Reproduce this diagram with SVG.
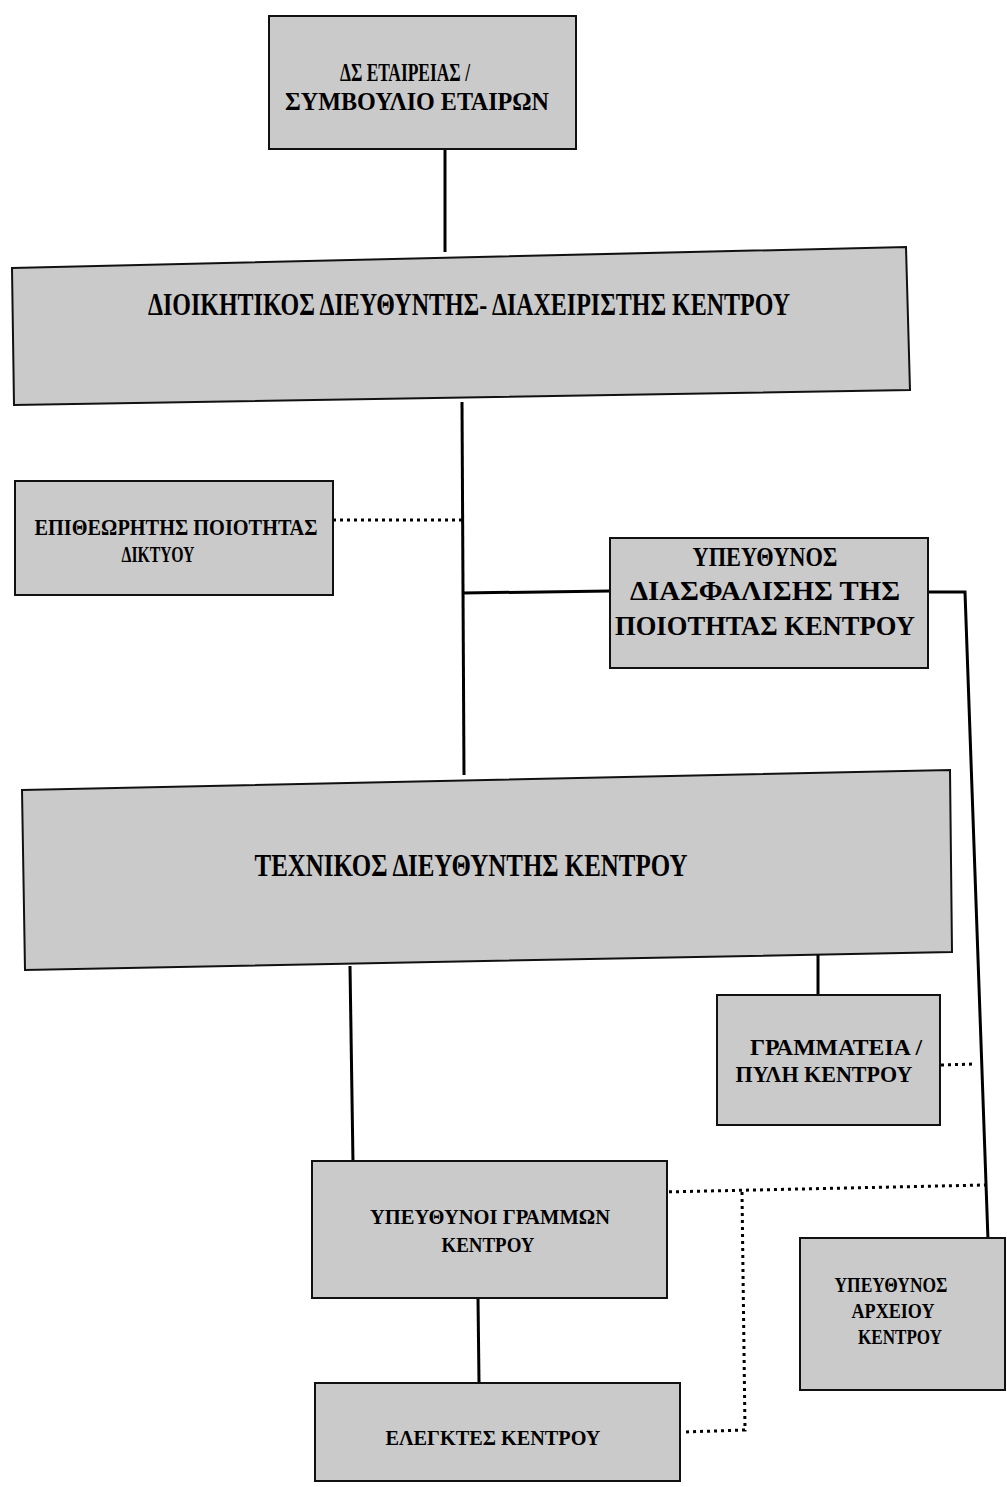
<svg xmlns="http://www.w3.org/2000/svg" width="1007" height="1487" viewBox="0 0 1007 1487">
<style>
.box{fill:#cacaca;stroke:#111;stroke-width:2}
.t{font-family:"Liberation Serif","DejaVu Serif",serif;font-weight:bold;fill:#000;text-anchor:middle}
.s{fill:none;stroke:#000;stroke-width:3}
.d{fill:none;stroke:#000;stroke-width:3;stroke-dasharray:3 4}
</style>
<rect width="1007" height="1487" fill="#fff"/>
<g id="connectors">
<line class="s" x1="445" y1="150" x2="445" y2="252"/>
<line class="s" x1="462" y1="402" x2="464" y2="775"/>
<line class="d" x1="333" y1="520" x2="462" y2="520"/>
<line class="s" x1="463" y1="593" x2="610" y2="591"/>
<polyline class="s" points="915,592 965,592 988,1240"/>
<line class="s" x1="350" y1="966" x2="353" y2="1163"/>
<line class="s" x1="818" y1="953" x2="818" y2="996"/>
<line class="d" x1="941" y1="1065" x2="975" y2="1064"/>
<line class="d" x1="662" y1="1192" x2="985" y2="1185"/>
<polyline class="d" points="742,1192 745,1430 683,1432"/>
<line class="s" x1="478" y1="1298" x2="479" y2="1382"/>
</g>
<g id="n1">
<rect class="box" x="269" y="16" width="307" height="133"/>
<text class="t" x="405" y="81" font-size="26" textLength="130" lengthAdjust="spacingAndGlyphs">ΔΣ ΕΤΑΙΡΕΙΑΣ /</text>
<text class="t" x="417" y="110" font-size="26" textLength="264" lengthAdjust="spacingAndGlyphs">ΣΥΜΒΟΥΛΙΟ ΕΤΑΙΡΩΝ</text>
</g>
<g id="n2">
<polygon class="box" points="12,268 906,247 910,390 14,405"/>
<text class="t" x="469" y="315" font-size="31" textLength="642" lengthAdjust="spacingAndGlyphs">ΔΙΟΙΚΗΤΙΚΟΣ ΔΙΕΥΘΥΝΤΗΣ- ΔΙΑΧΕΙΡΙΣΤΗΣ ΚΕΝΤΡΟΥ</text>
</g>
<g id="n3">
<rect class="box" x="15" y="481" width="318" height="114"/>
<text class="t" x="176" y="535" font-size="23" textLength="283" lengthAdjust="spacingAndGlyphs">ΕΠΙΘΕΩΡΗΤΗΣ ΠΟΙΟΤΗΤΑΣ</text>
<text class="t" x="158" y="562" font-size="23" textLength="73" lengthAdjust="spacingAndGlyphs">ΔΙΚΤΥΟΥ</text>
</g>
<g id="n4">
<rect class="box" x="610" y="538" width="318" height="130"/>
<text class="t" x="765" y="566" font-size="28" textLength="145" lengthAdjust="spacingAndGlyphs">ΥΠΕΥΘΥΝΟΣ</text>
<text class="t" x="765" y="600" font-size="28" textLength="270" lengthAdjust="spacingAndGlyphs">ΔΙΑΣΦΑΛΙΣΗΣ ΤΗΣ</text>
<text class="t" x="765" y="635" font-size="28" textLength="300" lengthAdjust="spacingAndGlyphs">ΠΟΙΟΤΗΤΑΣ ΚΕΝΤΡΟΥ</text>
</g>
<g id="n5">
<polygon class="box" points="22,790 950,770 952,952 25,970"/>
<text class="t" x="471" y="876" font-size="31" textLength="433" lengthAdjust="spacingAndGlyphs">ΤΕΧΝΙΚΟΣ ΔΙΕΥΘΥΝΤΗΣ ΚΕΝΤΡΟΥ</text>
</g>
<g id="n6">
<rect class="box" x="717" y="995" width="223" height="130"/>
<text class="t" x="836" y="1055" font-size="23" textLength="172" lengthAdjust="spacingAndGlyphs">ΓΡΑΜΜΑΤΕΙΑ /</text>
<text class="t" x="824" y="1082" font-size="23" textLength="177" lengthAdjust="spacingAndGlyphs">ΠΥΛΗ ΚΕΝΤΡΟΥ</text>
</g>
<g id="n7">
<rect class="box" x="312" y="1161" width="355" height="137"/>
<text class="t" x="490" y="1224" font-size="22" textLength="240" lengthAdjust="spacingAndGlyphs">ΥΠΕΥΘΥΝΟΙ ΓΡΑΜΜΩΝ</text>
<text class="t" x="488" y="1252" font-size="22" textLength="93" lengthAdjust="spacingAndGlyphs">ΚΕΝΤΡΟΥ</text>
</g>
<g id="n8">
<rect class="box" x="315" y="1383" width="365" height="98"/>
<text class="t" x="493" y="1445" font-size="22" textLength="215" lengthAdjust="spacingAndGlyphs">ΕΛΕΓΚΤΕΣ ΚΕΝΤΡΟΥ</text>
</g>
<g id="n9">
<rect class="box" x="800" y="1238" width="205" height="152"/>
<text class="t" x="891" y="1292" font-size="21" textLength="113" lengthAdjust="spacingAndGlyphs">ΥΠΕΥΘΥΝΟΣ</text>
<text class="t" x="893" y="1318" font-size="21" textLength="83" lengthAdjust="spacingAndGlyphs">ΑΡΧΕΙΟΥ</text>
<text class="t" x="900" y="1344" font-size="21" textLength="84" lengthAdjust="spacingAndGlyphs">ΚΕΝΤΡΟΥ</text>
</g>
</svg>
